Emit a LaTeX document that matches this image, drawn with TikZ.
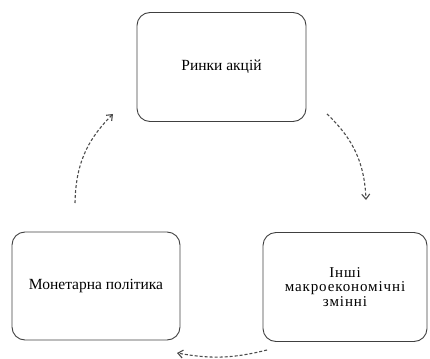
\documentclass[tikz,border=0pt]{standalone}
\usepackage{fontspec}
\setmainfont{Liberation Serif}
\usetikzlibrary{arrows.meta}

\begin{document}
\begin{tikzpicture}[x=1pt, y=-1pt,
    box/.style={draw=black!75, line width=0.9pt, rounded corners=13pt, align=center,
      font=\fontsize{15.5}{14.5}\selectfont},
    wide/.style={font=\fontsize{15}{14.5}\selectfont\addfontfeature{LetterSpace=6}},
    flow/.style={draw=black!70, line width=1.1pt, dash pattern=on 3pt off 2pt,
      -{Straight Barb[length=5pt, width=8pt]}}]
     % рамка
     \useasboundingbox (0,0) rectangle (430,358);

     % блоки
     \node [box, minimum width=169pt, minimum height=109pt] (stocks) at (221.5,67) {Ринки акцій};
     \node [box, minimum width=168pt, minimum height=108pt] (monetary) at (96,286) {Монетарна політика};
     \node [box, wide, minimum width=164pt, minimum height=109pt] (macro) at (345,287) {Інші\\макроекономічні\\змінні};

     % кінці стрілок
     \coordinate (a1) at (75,203);
     \coordinate (a2) at (113,114);
     \coordinate (b1) at (327,114);
     \coordinate (b2) at (366,200);
     \coordinate (c1) at (267,350);
     \coordinate (c2) at (177,353);

     % стрілки
     \draw [flow] (a1) to [bend left=22] (a2);
     \draw [flow] (b1) to [bend left=22] (b2);
     \draw [flow] (c1) to [bend left=12] (c2);
\end{tikzpicture}
\end{document}
